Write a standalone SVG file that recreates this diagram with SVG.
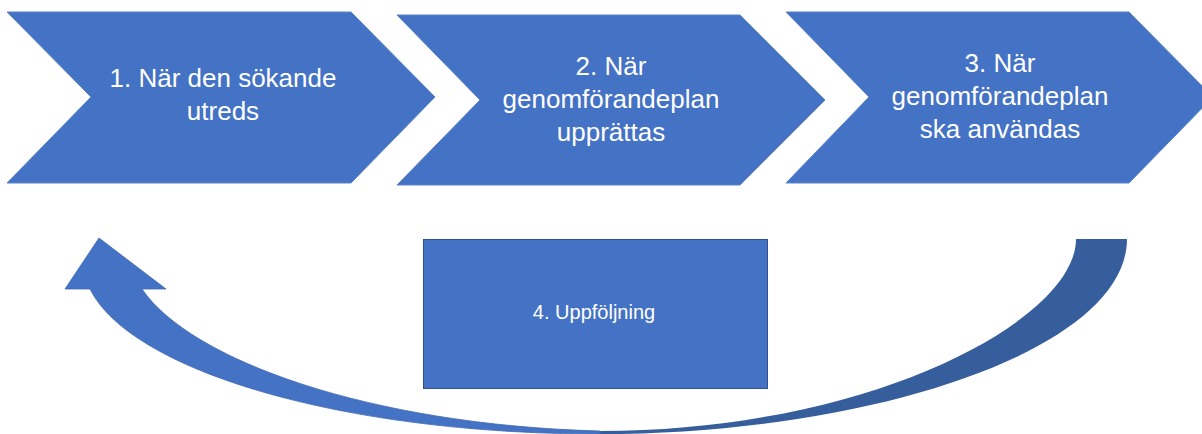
<svg xmlns="http://www.w3.org/2000/svg" width="1202" height="434" viewBox="0 0 1202 434">
  <style>
    .chev { fill: #4472C4; stroke: #5A83CC; stroke-width: 1; }
    .box { fill: #4472C4; stroke: #2F528F; stroke-width: 1; }
    .lbl { font-family: "Liberation Sans", Arial, sans-serif; font-size: 26px; fill: #FFFFFF; text-anchor: middle; }
    .lbl-s { font-family: "Liberation Sans", Arial, sans-serif; font-size: 20px; fill: #FFFFFF; text-anchor: middle; }
    .arr-light { fill: #4472C4; stroke: #3F67B0; stroke-width: 0.8; }
    .arr-dark { fill: #365E9C; }
  </style>
  <rect width="1202" height="434" fill="#FFFFFF"/>

  <g id="connectors">
    <path class="arr-dark" d="M 1127 239 C 1127 350 870 434 600 434 L 600 431 C 870 431 1076 320 1076 239 Z"/>
    <path class="arr-light" d="M 600 434 C 340 434 130 370 90 289 L 65 289 L 99 238 L 166 289 L 142 289 C 190 360 370 425 600 431 Z"/>
  </g>

  <g id="node1">
    <polygon class="chev" points="7,12 351,12 435,97 351,183 7,183 91,97"/>
    <text class="lbl" x="223" y="87">1. När den sökande</text>
    <text class="lbl" x="223" y="120">utreds</text>
  </g>

  <g id="node2">
    <polygon class="chev" points="397,15 740,15 825,100 740,185 397,185 480,100"/>
    <text class="lbl" x="611" y="75">2. När</text>
    <text class="lbl" x="611" y="108">genomförandeplan</text>
    <text class="lbl" x="611" y="141">upprättas</text>
  </g>

  <g id="node3">
    <polygon class="chev" points="786,12 1129,12 1213,97 1129,183 786,183 869,97"/>
    <text class="lbl" x="1000" y="72">3. När</text>
    <text class="lbl" x="1000" y="105">genomförandeplan</text>
    <text class="lbl" x="1000" y="138">ska användas</text>
  </g>

  <g id="node4">
    <rect class="box" x="423.5" y="239.5" width="344" height="149"/>
    <text class="lbl-s" x="594" y="319">4. Uppföljning</text>
  </g>
</svg>
